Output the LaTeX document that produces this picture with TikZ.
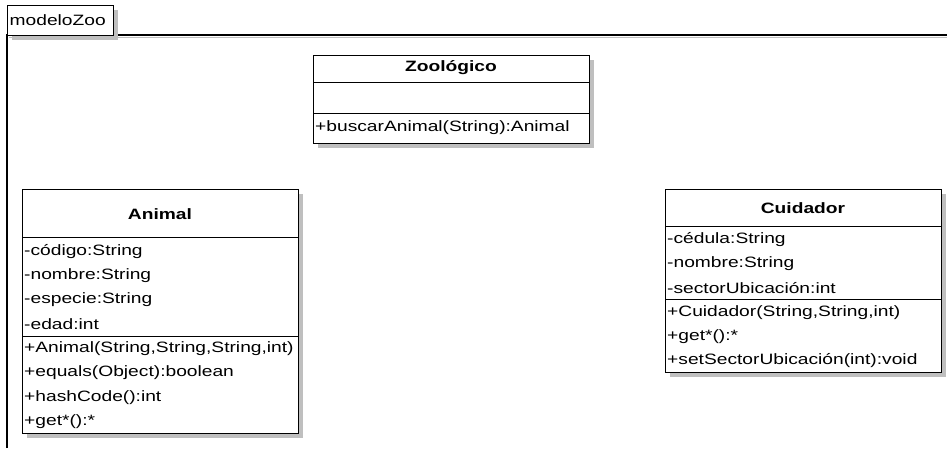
\documentclass[tikz,border=0pt]{standalone}
\usepackage{fontspec}
\setmainfont[FakeStretch=1.28]{Liberation Sans}
\usetikzlibrary{shadows}
\tikzset{
  cls/.style={draw=black, line width=1.3pt, fill=white, rectangle, inner sep=0pt,
    anchor=north west,
    drop shadow={shadow xshift=4pt, shadow yshift=-4pt, fill=black!25, opacity=1}},
  sep/.style={draw=black, line width=1pt},
  mem/.style={anchor=west, inner sep=0pt, font=\fontsize{15}{15}\selectfont},
  ttl/.style={anchor=center, inner sep=0pt, font=\bfseries\fontsize{15}{15}\selectfont},
}
\begin{document}
\begin{tikzpicture}[x=1pt,y=-1pt]
\useasboundingbox[fill=white] (0,0) rectangle (947,448);
% package frame
\draw[black!25, line width=1pt] (9,37) -- (947,37);
\draw[black, line width=1.3pt] (7,448) -- (7,35) -- (947,35);
\node[cls, minimum width=106pt, minimum height=30pt] (tab) at (7,5) {};
\node[mem] (tabname) at (9.5,20) {modeloZoo};

% Zoologico
\node[cls, minimum width=276pt, minimum height=88pt] (zoo) at (313,55) {};
\node[ttl] (zoot) at (451,68) {Zoológico};
\draw[sep] (zoo.west |- 0,82) -- (zoo.east |- 0,82);
\draw[sep] (zoo.west |- 0,113) -- (zoo.east |- 0,113);
\node[mem] (zoom1) at (315,128) {+buscarAnimal(String):Animal};

% Animal
\node[cls, minimum width=276pt, minimum height=244pt] (animal) at (22,189) {};
\node[ttl] (animalt) at (160,214) {Animal};
\draw[sep] (animal.west |- 0,237) -- (animal.east |- 0,237);
\node[mem] (aa1) at (24,251.5) {-código:String};
\node[mem] (aa2) at (24,276) {-nombre:String};
\node[mem] (aa3) at (24,300) {-especie:String};
\node[mem] (aa4) at (24,324) {-edad:int};
\draw[sep] (animal.west |- 0,336) -- (animal.east |- 0,336);
\node[mem] (am1) at (24,349) {+Animal(String,String,String,int)};
\node[mem] (am2) at (24,373) {+equals(Object):boolean};
\node[mem] (am3) at (24,397.5) {+hashCode():int};
\node[mem] (am4) at (24,421.5) {+get*():*};

% Cuidador
\node[cls, minimum width=276pt, minimum height=183pt] (cuid) at (665,189) {};
\node[ttl] (cuidt) at (803,208) {Cuidador};
\draw[sep] (cuid.west |- 0,226) -- (cuid.east |- 0,226);
\node[mem] (ca1) at (667,239.5) {-cédula:String};
\node[mem] (ca2) at (667,264) {-nombre:String};
\node[mem] (ca3) at (667,288) {-sectorUbicación:int};
\draw[sep] (cuid.west |- 0,299) -- (cuid.east |- 0,299);
\node[mem] (cm1) at (667,312.5) {+Cuidador(String,String,int)};
\node[mem] (cm2) at (667,337) {+get*():*};
\node[mem] (cm3) at (667,361) {+setSectorUbicación(int):void};
\end{tikzpicture}
\end{document}
